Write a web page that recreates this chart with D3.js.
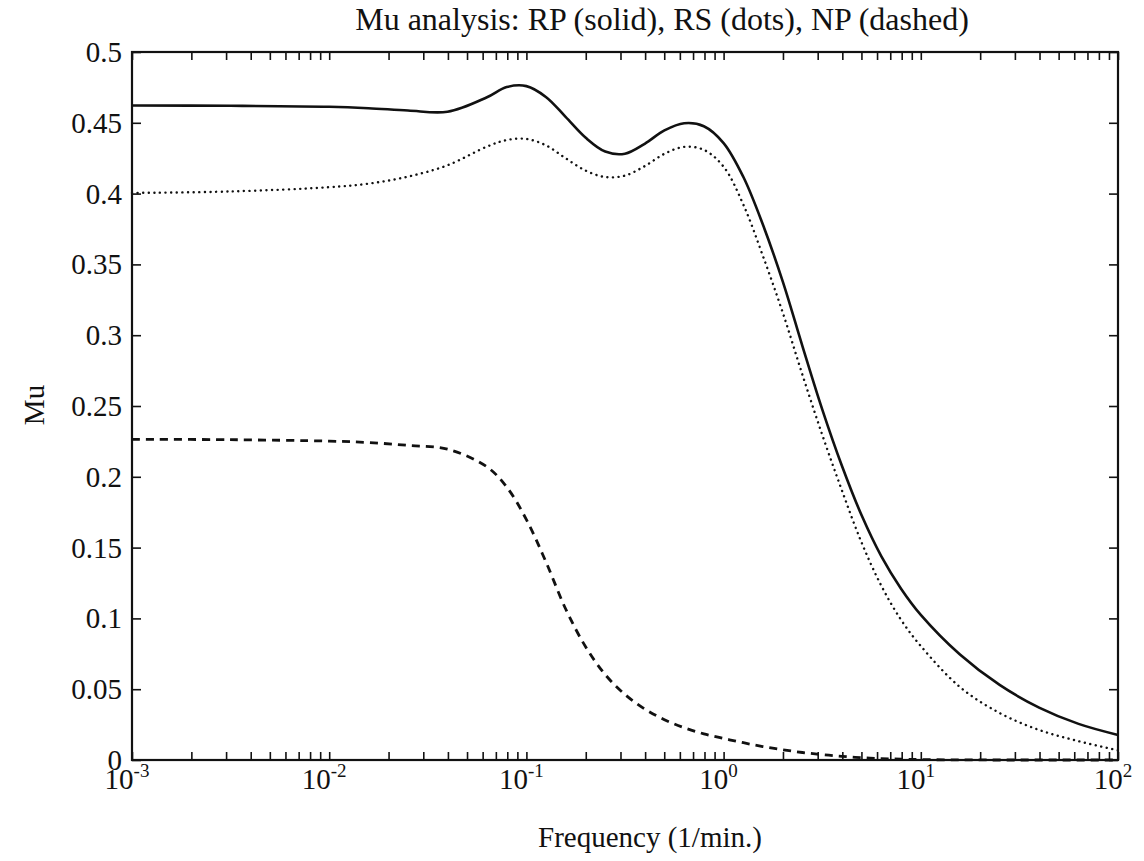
<!DOCTYPE html>
<html>
<head>
<meta charset="utf-8">
<script src="https://cdn.jsdelivr.net/npm/d3@7"></script>
<style>
  body { margin: 0; background: #fff; }
  text { font-family: "Liberation Serif", "Times New Roman", serif; fill: #111; }
</style>
</head>
<body>
<script>
// ---- data ----
var freq = [0.001, 0.00316, 0.01, 0.0158, 0.0251, 0.0398, 0.0631, 0.0794, 0.1, 0.126,
            0.158, 0.2, 0.251, 0.316, 0.398, 0.501, 0.631, 0.794, 1, 1.26,
            1.58, 2, 2.51, 3.16, 3.98, 5.01, 6.31, 7.94, 10, 15.8,
            25.1, 39.8, 63.1, 100];

// RP (solid)
var muRP = [0.4622, 0.462, 0.4613, 0.4603, 0.4587, 0.4578, 0.468, 0.4752, 0.4759, 0.4681,
            0.4542, 0.4394, 0.4297, 0.4282, 0.4352, 0.4446, 0.4497, 0.4476, 0.4357, 0.4117,
            0.3783, 0.3375, 0.2923, 0.2478, 0.2078, 0.1728, 0.1438, 0.121, 0.1025, 0.0745,
            0.053, 0.037, 0.0255, 0.0177];

// RS (dots)
var muRS = [0.4005, 0.4015, 0.4045, 0.407, 0.412, 0.42, 0.4332, 0.4378, 0.4386, 0.434,
            0.425, 0.4162, 0.4117, 0.4127, 0.4194, 0.4281, 0.433, 0.4309, 0.419, 0.3921,
            0.3562, 0.3155, 0.2721, 0.2299, 0.1904, 0.1535, 0.123, 0.099, 0.0805, 0.0515,
            0.0332, 0.0212, 0.0133, 0.0068];

// NP (dashed)
var muNP = [0.2265, 0.2262, 0.2252, 0.2242, 0.2222, 0.2195, 0.207, 0.1928, 0.1698, 0.1395,
            0.1068, 0.0798, 0.0603, 0.0463, 0.036, 0.0285, 0.0228, 0.0185, 0.0152, 0.0122,
            0.0095, 0.0072, 0.0053, 0.0038, 0.0026, 0.0016, 0.001, 0.0006, 0.0003, 0.0001,
            0, 0, 0, 0];

var xMajor = [1e-3, 1e-2, 1e-1, 1, 10, 100];
var xExp = ["-3", "-2", "-1", "0", "1", "2"];
var yTicks = [0, 0.05, 0.1, 0.15, 0.2, 0.25, 0.3, 0.35, 0.4, 0.45, 0.5];
var yLabels = ["0", "0.05", "0.1", "0.15", "0.2", "0.25", "0.3", "0.35", "0.4", "0.45", "0.5"];

var titleText = "Mu analysis: RP (solid), RS (dots), NP (dashed)";

// ---- layout ----
var W = 1144, H = 861;
var plotL = 132, plotR = 1118, plotT = 52, plotB = 760;

var svg = d3.select("body").append("svg")
    .attr("width", W)
    .attr("height", H);

var x = d3.scaleLog().domain([1e-3, 1e2]).range([plotL, plotR]);
var y = d3.scaleLinear().domain([0, 0.5]).range([plotB, plotT]);

// ticks (inward), all four sides
function styleAxis(g) {
    g.select(".domain").remove();
    g.selectAll(".tick line").attr("stroke", "#111").attr("stroke-width", 1.6);
    g.selectAll(".tick text").remove();
}

svg.append("g")
    .attr("transform", "translate(0," + plotB + ")")
    .call(d3.axisBottom(x).tickValues(x.ticks()).tickSizeInner(-8).tickSizeOuter(0).tickFormat(""))
    .call(styleAxis);

svg.append("g")
    .attr("transform", "translate(0," + plotT + ")")
    .call(d3.axisTop(x).tickValues(x.ticks()).tickSizeInner(-8).tickSizeOuter(0).tickFormat(""))
    .call(styleAxis);

svg.append("g")
    .attr("transform", "translate(" + plotL + ",0)")
    .call(d3.axisLeft(y).tickValues(yTicks).tickSizeInner(-9).tickSizeOuter(0).tickFormat(""))
    .call(styleAxis);

svg.append("g")
    .attr("transform", "translate(" + plotR + ",0)")
    .call(d3.axisRight(y).tickValues(yTicks).tickSizeInner(-9).tickSizeOuter(0).tickFormat(""))
    .call(styleAxis);

// frame
svg.append("rect")
    .attr("x", plotL)
    .attr("y", plotT)
    .attr("width", plotR - plotL)
    .attr("height", plotB - plotT)
    .attr("fill", "none")
    .attr("stroke", "#111")
    .attr("stroke-width", 2.2);

// y tick labels
svg.selectAll(".ylab")
    .data(yTicks)
    .enter()
    .append("text")
    .attr("class", "ylab")
    .attr("x", plotL - 10)
    .attr("y", function (d) { return y(d) + 10; })
    .attr("text-anchor", "end")
    .style("font-size", "29px")
    .text(function (d, i) { return yLabels[i]; });

// x tick labels 10^n
var xl = svg.selectAll(".xlab")
    .data(xMajor)
    .enter()
    .append("text")
    .attr("class", "xlab")
    .attr("x", function (d) { return x(d) - 5; })
    .attr("y", plotB + 29)
    .attr("text-anchor", "middle")
    .style("font-size", "29px");
xl.append("tspan").text("10");
xl.append("tspan")
    .attr("dy", -12)
    .style("font-size", "19px")
    .text(function (d, i) { return xExp[i]; });

// title and axis labels
svg.append("text")
    .attr("x", 662)
    .attr("y", 30)
    .attr("text-anchor", "middle")
    .style("font-size", "32px")
    .text(titleText);

svg.append("text")
    .attr("x", 650)
    .attr("y", 847)
    .attr("text-anchor", "middle")
    .style("font-size", "29px")
    .text("Frequency (1/min.)");

svg.append("text")
    .attr("transform", "translate(44,405) rotate(-90)")
    .attr("text-anchor", "middle")
    .style("font-size", "29px")
    .text("Mu");

// curves
function series(vals) {
    return freq.map(function (f, i) { return { f: f, v: vals[i] }; });
}

var line = d3.line()
    .x(function (d) { return x(d.f); })
    .y(function (d) { return y(d.v); })
    .curve(d3.curveCatmullRom.alpha(0.5));

svg.append("path")
    .attr("d", line(series(muRP)))
    .attr("fill", "none")
    .attr("stroke", "#111")
    .attr("stroke-width", 2.6);

svg.append("path")
    .attr("d", line(series(muRS)))
    .attr("fill", "none")
    .attr("stroke", "#111")
    .attr("stroke-width", 2.4)
    .attr("stroke-linecap", "round")
    .attr("stroke-dasharray", "0.1 5.5");

svg.append("path")
    .attr("d", line(series(muNP)))
    .attr("fill", "none")
    .attr("stroke", "#111")
    .attr("stroke-width", 2.8)
    .attr("stroke-dasharray", "8 6");
</script>
</body>
</html>
